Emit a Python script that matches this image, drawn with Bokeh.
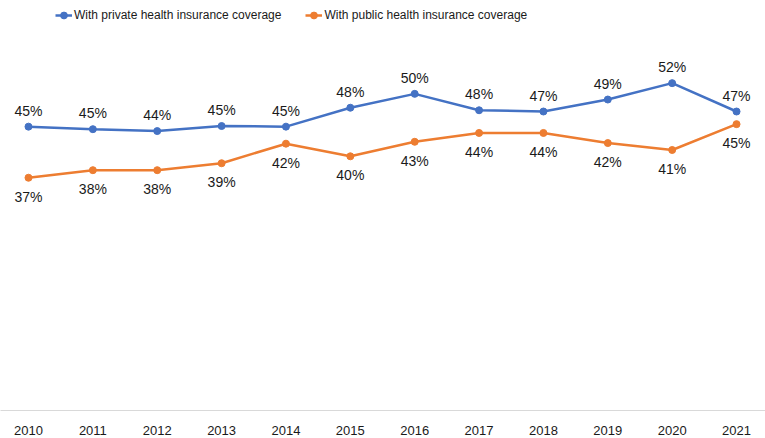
from bokeh.plotting import figure
from bokeh.models import Range1d, FixedTicker, Legend, LegendItem, ColumnDataSource
from bokeh.core.properties import value
from bokeh.embed import file_html
from bokeh.resources import INLINE

years = [2010, 2011, 2012, 2013, 2014, 2015, 2016, 2017, 2018, 2019, 2020, 2021]
year_labels = [str(y) for y in years]
private = [45.0, 44.6, 44.3, 45.1, 45.0, 48.0, 50.2, 47.6, 47.4, 49.3, 51.9, 47.4]
public = [36.9, 38.1, 38.1, 39.2, 42.3, 40.3, 42.6, 44.0, 44.0, 42.4, 41.3, 45.4]
series_names = ["With private health insurance coverage", "With public health insurance coverage"]
colors = ["#4472C4", "#ED7D31"]

W, H = 765, 438
p = figure(width=W, height=H, output_backend="svg", toolbar_location=None,
           x_range=Range1d(2009.565, 2021.45), y_range=Range1d(0, 65),
           y_axis_location=None, min_border_left=0, min_border_right=0,
           min_border_top=0, min_border_bottom=28)
p.outline_line_color = None
p.xgrid.visible = False
p.ygrid.visible = False
p.background_fill_color = "white"
p.border_fill_color = "white"

src_priv = ColumnDataSource(dict(x=years, y=private, t=[f"{round(v)}%" for v in private]))
src_pub = ColumnDataSource(dict(x=years, y=public, t=[f"{round(v)}%" for v in public]))

l1 = p.line("x", "y", source=src_priv, color=colors[0], line_width=2.5)
c1 = p.scatter("x", "y", source=src_priv, color=colors[0], size=7)
l2 = p.line("x", "y", source=src_pub, color=colors[1], line_width=2.5)
c2 = p.scatter("x", "y", source=src_pub, color=colors[1], size=7)

p.text("x", "y", text="t", source=src_priv, text_align="center", text_baseline="bottom",
       y_offset=-8, text_font=value("Liberation Sans"), text_font_size="14px", text_color="#1a1a1a")
p.text("x", "y", text="t", source=src_pub, text_align="center", text_baseline="top",
       y_offset=11, text_font=value("Liberation Sans"), text_font_size="14px", text_color="#1a1a1a")

xa = p.xaxis[0]
xa.ticker = FixedTicker(ticks=years)
xa.major_label_overrides = {y: s for y, s in zip(years, year_labels)}
xa.major_tick_line_color = None
xa.minor_tick_line_color = None
xa.axis_line_color = "#d9d9d9"
xa.axis_line_width = 1
xa.major_label_standoff = 9
xa.major_label_text_font = "Liberation Sans"
xa.major_label_text_font_size = "13px"
xa.major_label_text_color = "#1a1a1a"

legend = Legend(items=[LegendItem(label=series_names[0], renderers=[l1, c1]),
                       LegendItem(label=series_names[1], renderers=[l2, c2])],
                orientation="horizontal", location=(55, 385))
legend.border_line_color = None
legend.background_fill_alpha = 0
legend.padding = 0
legend.margin = 0
legend.glyph_width = 17
legend.glyph_height = 20
legend.label_standoff = 2
legend.spacing = 24
legend.label_text_font = "Liberation Sans"
legend.label_text_font_size = "12px"
legend.label_text_color = "#1a1a1a"
p.add_layout(legend, "center")

open("out.html", "w").write(file_html(p, INLINE))
